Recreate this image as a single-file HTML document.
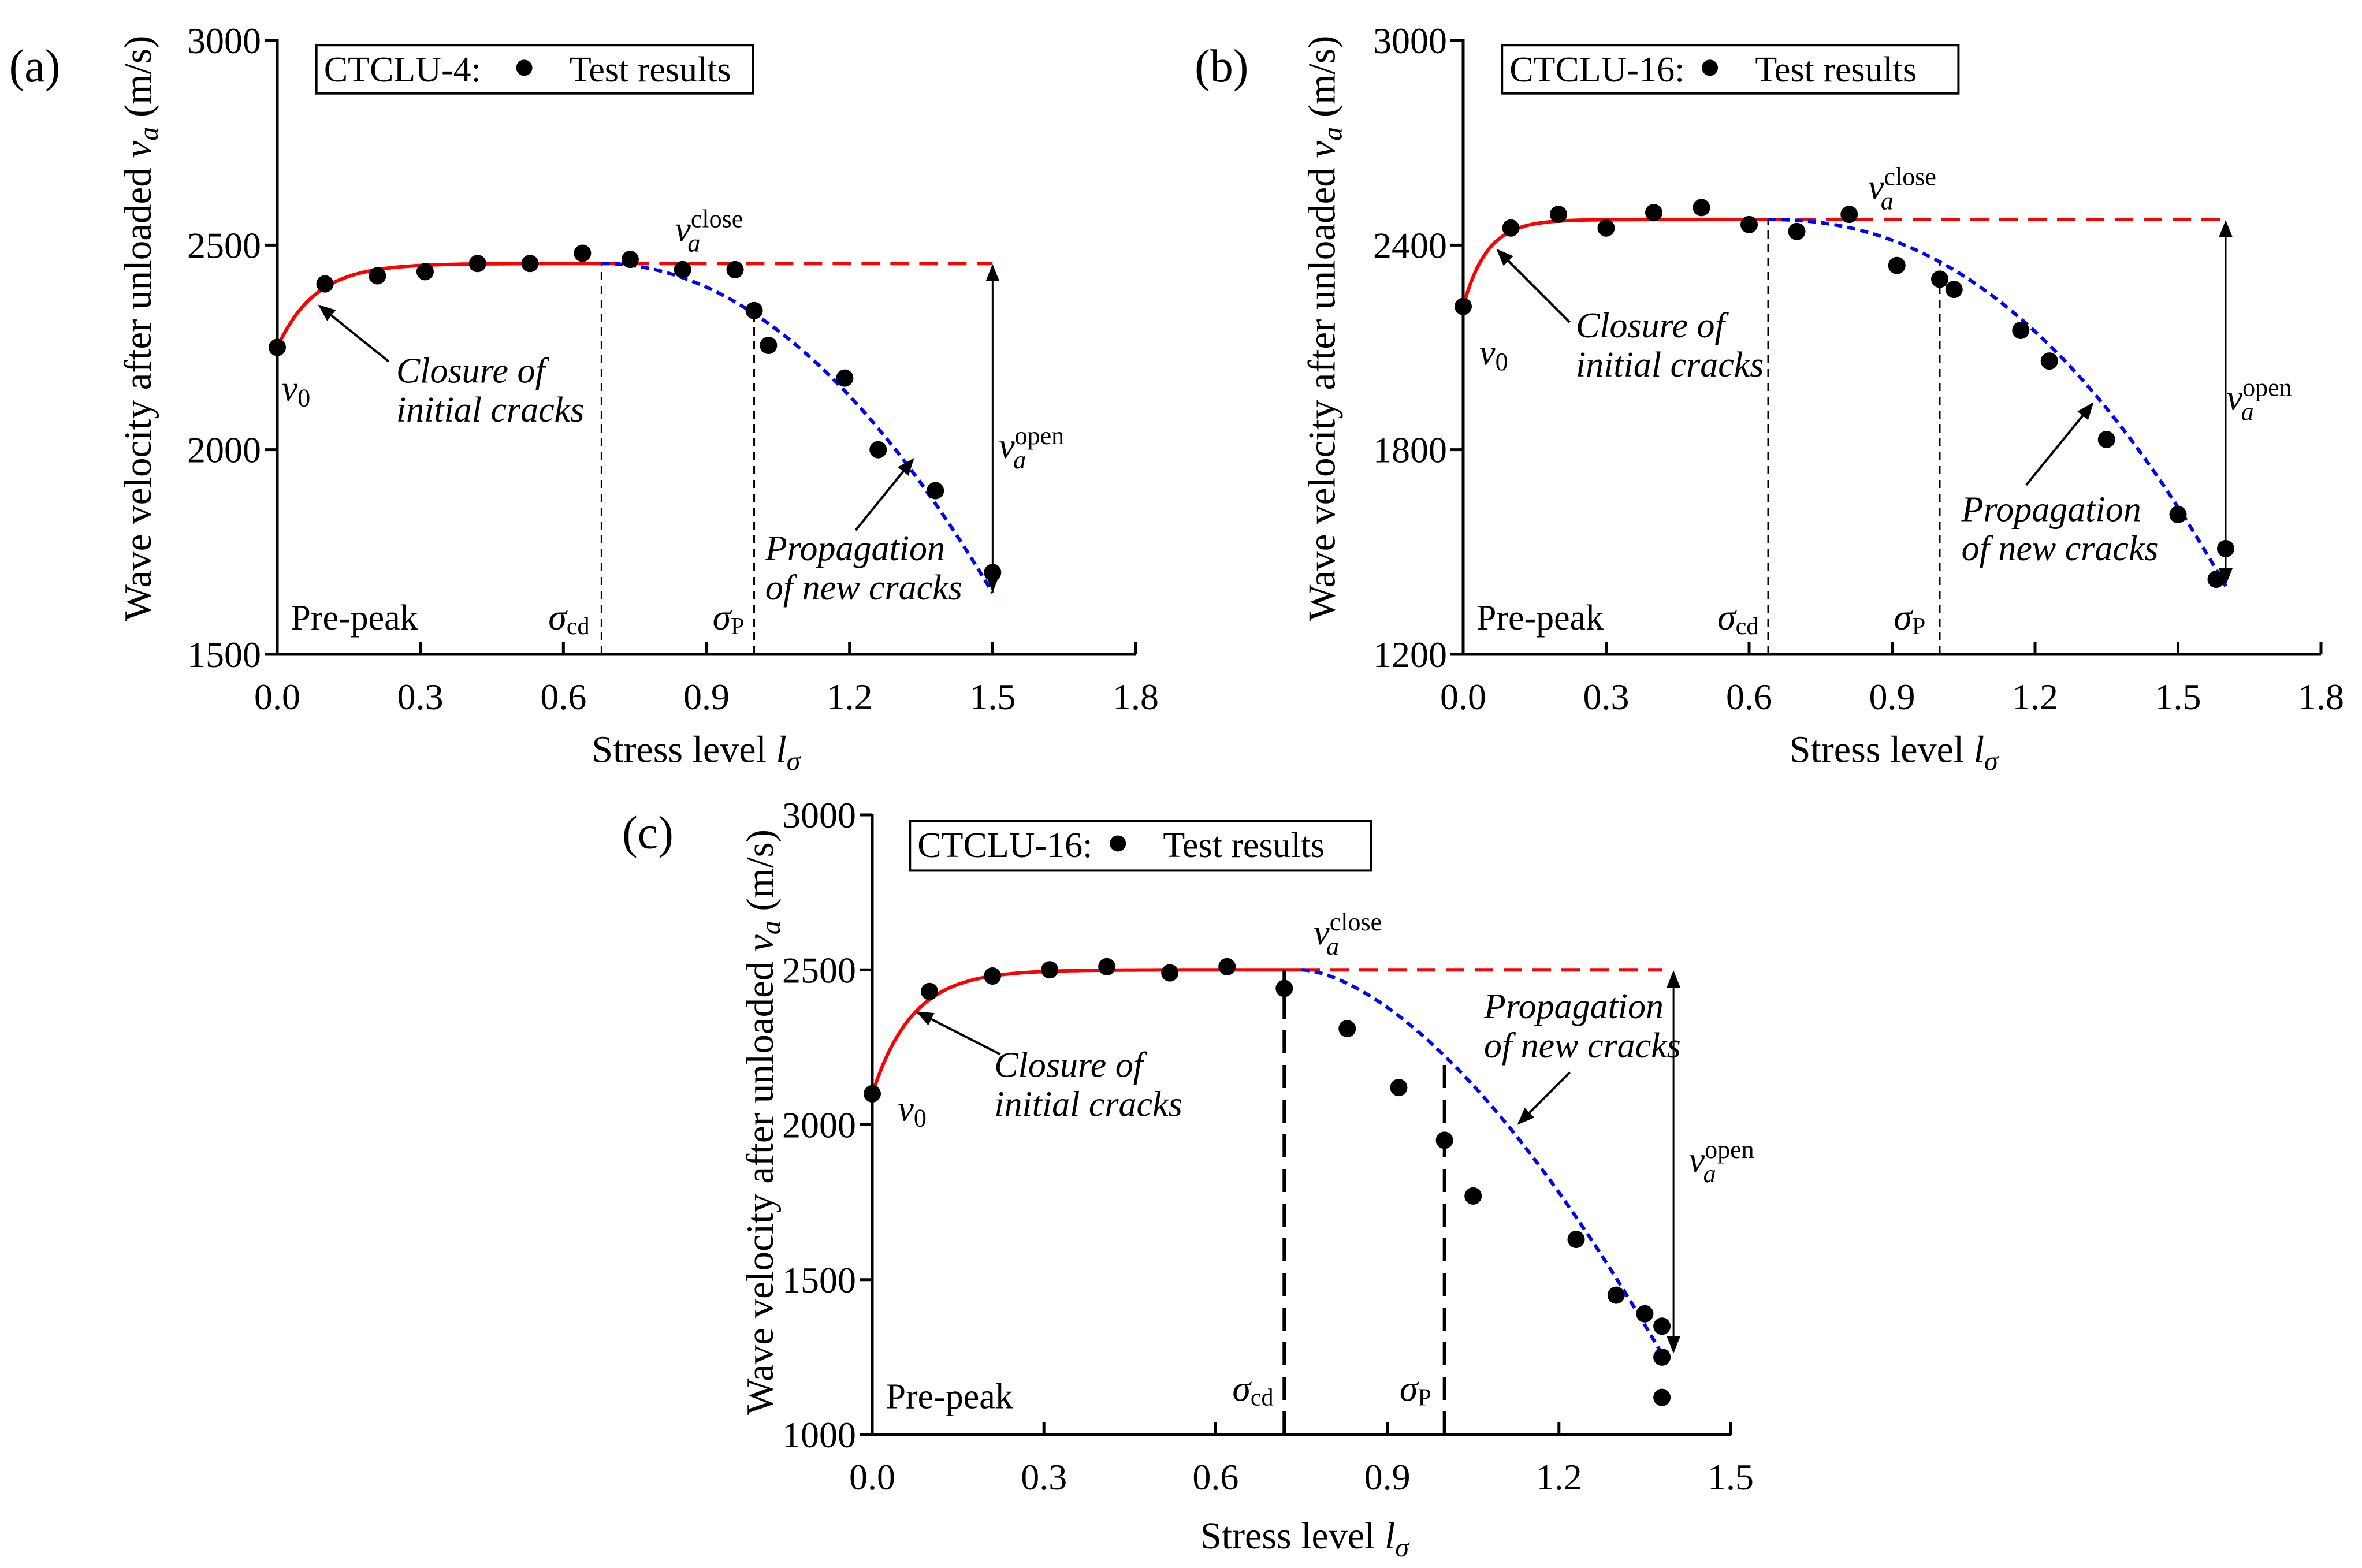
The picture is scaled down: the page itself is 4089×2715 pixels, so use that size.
<!DOCTYPE html>
<html><head><meta charset="utf-8">
<style>
html,body{margin:0;padding:0;background:#fff;}
svg{display:block;font-family:"Liberation Serif","DejaVu Serif",serif;}
</style></head>
<body>
<svg id="fig" width="4089" height="2715" viewBox="0 0 4089 2715" xmlns="http://www.w3.org/2000/svg">
<defs>
<marker id="ah2" viewBox="0 0 10 10" refX="9" refY="5" markerWidth="30" markerHeight="30" orient="auto-start-reverse" markerUnits="userSpaceOnUse"><path d="M0,1 L10,5 L0,9 z" fill="#000"/></marker>
</defs>
</svg>
<script>
// ---- data ----
const aX=[0,0.1,0.21,0.31,0.42,0.53,0.64,0.74,0.85,0.96,1.0,1.03,1.19,1.26,1.38,1.5];
const aY=[2250,2405,2425,2435,2455,2455,2480,2465,2440,2440,2340,2255,2175,2000,1900,1700];
const bX=[0,0.1,0.2,0.3,0.4,0.5,0.6,0.7,0.81,0.91,1.0,1.03,1.17,1.23,1.35,1.5,1.58,1.6];
const bY=[2220,2450,2490,2450,2495,2510,2460,2440,2490,2340,2300,2270,2150,2060,1830,1610,1420,1510];
const cX=[0,0.1,0.21,0.31,0.41,0.52,0.62,0.72,0.83,0.92,1.0,1.05,1.23,1.3,1.35,1.38,1.38,1.38];
const cY=[2100,2430,2480,2500,2510,2490,2510,2440,2310,2120,1950,1770,1630,1450,1390,1350,1250,1120];
const abXTicks=[0,0.3,0.6,0.9,1.2,1.5,1.8];
const aYTicks=[1500,2000,2500,3000];
const bYTicks=[1200,1800,2400,3000];
const cXTicks=[0,0.3,0.6,0.9,1.2,1.5];
const cYTicks=[1000,1500,2000,2500,3000];
// fit params: v0, plateau, x of cd, x end, drop at end, exponent, k, cd-line x
const aFit=[2250,2455,0.68,1.5,805,2.0,0.08,0.68];
const bFit=[2220,2475,0.64,1.6,1075,2.2,0.05,0.64];
const cFit=[2100,2500,0.75,1.38,1240,1.62,0.07,0.72];

const S=2.608;
const svg=document.getElementById('fig');
const NS='http://www.w3.org/2000/svg';
function mk(tag,attrs,parent){const e=document.createElementNS(NS,tag);for(const k in attrs)e.setAttribute(k,attrs[k]);(parent||svg).appendChild(e);return e;}

function panel(id,cfg,X,Y,xt,yt,fit){
  const g=mk('g',{});
  
  
  const px=v=>cfg.x0+(v-cfg.xmin)/(cfg.xmax-cfg.xmin)*(cfg.x1-cfg.x0);
  const py=v=>cfg.y0-(v-cfg.ymin)/(cfg.ymax-cfg.ymin)*(cfg.y0-cfg.y1);
  const ax=mk('path',{d:`M${cfg.x0},${cfg.y1-2}V${cfg.y0}H${cfg.x1}`,stroke:'#000','stroke-width':5,fill:'none'},g);
  
  
  xt.forEach(t=>{
    mk('line',{x1:px(t),x2:px(t),y1:cfg.y0,y2:cfg.y0-22,stroke:'#000','stroke-width':5},g);
    const tx=mk('text',{x:px(t),y:cfg.y0+95,'font-size':64,'text-anchor':'middle'},g);
    tx.textContent=t.toFixed(1);
    
    
  });
  yt.forEach(t=>{
    mk('line',{x1:cfg.x0,x2:cfg.x0-22,y1:py(t),y2:py(t),stroke:'#000','stroke-width':5},g);
    const tx=mk('text',{x:cfg.x0-28,y:py(t)+22,'font-size':64,'text-anchor':'end'},g);
    tx.textContent=t;
    
    
  });
  const [v0,pl,xcd,xe,drop,pw,k,xl]=fit;
  let d='';
  for(let i=0;i<=80;i++){const x=xcd*i/80;const v=pl-(pl-v0)*Math.exp(-x/k);d+=(i?'L':'M')+px(x).toFixed(1)+','+py(v).toFixed(1);}
  const red=mk('path',{d,stroke:'#f00','stroke-width':6,fill:'none'},g);
  
  
  const rh=mk('line',{x1:px(xcd),x2:px(xe),y1:py(pl),y2:py(pl),stroke:'#f00','stroke-width':6,'stroke-dasharray':'32 18'},g);
  
  
  d='';
  for(let i=0;i<=80;i++){const x=xcd+(xe-xcd)*i/80;const v=pl-drop*Math.pow((x-xcd)/(xe-xcd),pw);d+=(i?'L':'M')+px(x).toFixed(1)+','+py(v).toFixed(1);}
  const blue=mk('path',{d,stroke:'#00f','stroke-width':6,fill:'none','stroke-dasharray':'14 9'},g);
  
  
  const vAt=x=>pl-drop*Math.pow(Math.max(0,(x-xcd)/(xe-xcd)),pw);
  const sw=cfg.thick?6:3, da=cfg.thick?'40 20':'14 10';
  const l1=mk('line',{x1:px(xl),x2:px(xl),y1:cfg.y0,y2:py(pl),stroke:'#000','stroke-width':sw,'stroke-dasharray':da},g);
  
  
  const l2=mk('line',{x1:px(1),x2:px(1),y1:cfg.y0,y2:py(vAt(1)),stroke:'#000','stroke-width':sw,'stroke-dasharray':da},g);
  
  
  const ar=mk('line',{x1:px(xe)+(cfg.arrowDx||0),x2:px(xe)+(cfg.arrowDx||0),y1:py(pl)+4,y2:py(pl-drop)-4,stroke:'#000','stroke-width':3,'marker-start':'url(#ah2)','marker-end':'url(#ah2)'},g);
  
  
  X.forEach((x,i)=>{
    const c=mk('circle',{cx:px(x),cy:py(Y[i]),r:15,fill:'#000'},g);
    
    
  });
  return g;
}
function txt(html,x,y,size,name,anchor,extra){
  const t=mk('text',Object.assign({x:x*S,y:y*S,'font-size':size,'text-anchor':anchor||'start'},extra||{}));
  t.innerHTML=html;
  
  
  return t;
}
function arrow(x1,y1,x2,y2,name){
  const l=mk('line',{x1:x1*S,y1:y1*S,x2:x2*S,y2:y2*S,stroke:'#000','stroke-width':4,'marker-end':'url(#ah2)'});
  
  
}
function legend(x1,y1,x2,y2,label){
  const r=mk('rect',{x:x1*S,y:y1*S,width:(x2-x1)*S,height:(y2-y1)*S,fill:'#fff',stroke:'#000','stroke-width':4});
  
  
  txt(label,x1+5,y1+24,62,'legend-sample-label');
  const c=mk('circle',{cx:(x1+ (label.length>9?152:138))*S,cy:(y1+15)*S,r:14,fill:'#000'});
  
  
  txt('Test results',x1+(label.length>9?179:168),y1+24,62,'legend-entry');
}
function annotations(p,o){
  txt(p.tag,o.tag[0],o.tag[1],80,'panel-label');
  const yt=txt('Wave velocity after unloaded <tspan font-style="italic">v</tspan><tspan font-style="italic" font-size="48" dy="12">a</tspan><tspan dy="-12"> (m/s)</tspan>',0,0,67,'y-axis-title','middle',{transform:`translate(${o.yt[0]*S},${o.yt[1]*S}) rotate(-90)`});
  txt('Stress level <tspan font-style="italic">l</tspan><tspan font-style="italic" font-size="48" dy="14">σ</tspan>',o.xt[0],o.xt[1],66,'x-axis-title','middle');
  txt('Pre-peak',o.pre[0],o.pre[1],62,'pre-peak-label');
  txt('<tspan font-style="italic">σ</tspan><tspan font-size="42" dy="8">cd</tspan>',o.scd[0],o.scd[1],64,'sigma-cd-label');
  txt('<tspan font-style="italic">σ</tspan><tspan font-size="42" dy="8">P</tspan>',o.sp[0],o.sp[1],64,'sigma-p-label');
  txt('<tspan font-style="italic">v</tspan><tspan font-size="44" dy="10">0</tspan>',o.v0[0],o.v0[1],62,'v0-label');
  txt('Closure of',o.cl[0],o.cl[1],62,'closure-annotation',null,{'font-style':'italic'});
  txt('initial cracks',o.cl[0],o.cl[1]+26,62,'closure-annotation',null,{'font-style':'italic'});
  arrow(o.cla[0],o.cla[1],o.cla[2],o.cla[3],'closure-arrow');
  txt('Propagation',o.pr[0],o.pr[1],62,'propagation-annotation',null,{'font-style':'italic'});
  txt('of new cracks',o.pr[0],o.pr[1]+26,62,'propagation-annotation',null,{'font-style':'italic'});
  arrow(o.pra[0],o.pra[1],o.pra[2],o.pra[3],'propagation-arrow');
  txt('<tspan font-style="italic">v</tspan><tspan font-size="44" dy="-24">close</tspan><tspan font-style="italic" font-size="44" dx="-96" dy="42">a</tspan>',o.vc[0],o.vc[1],62,'v-close-label');
  txt('<tspan font-style="italic">v</tspan><tspan font-size="44" dy="-24">open</tspan><tspan font-style="italic" font-size="44" dx="-88" dy="42">a</tspan>',o.vo[0],o.vo[1],62,'v-open-label');
}
panel('a',{x0:480,x1:1966,y0:1133,y1:70,xmin:0,xmax:1.8,ymin:1500,ymax:3000},aX,aY,abXTicks,aYTicks,aFit);
panel('b',{x0:2533,x1:4018,y0:1133,y1:70,xmin:0,xmax:1.8,ymin:1200,ymax:3000},bX,bY,abXTicks,bYTicks,bFit);
panel('c',{x0:1510,x1:2996,y0:2484,y1:1411,xmin:0,xmax:1.5,ymin:1000,ymax:3000,thick:true,arrowDx:20},cX,cY,cXTicks,cYTicks,cFit);
legend(210,30,500,62,'CTCLU-4:');
legend(997,30,1300,62,'CTCLU-16:');
legend(604,545,910,578,'CTCLU-16:');
annotations({tag:'(a)'},{tag:[6,54],yt:[100,218],xt:[462,506],pre:[193,418],scd:[364,418],sp:[473,418],v0:[187,266],cl:[263,254],cla:[258,240,212,203],pra:[568,352,606,305],pr:[508,372],vc:[448,160],vo:[663,304]});
annotations({tag:'(b)'},{tag:[793,54],yt:[886,218],xt:[1257,506],pre:[980,418],scd:[1140,418],sp:[1257,418],v0:[982,242],cl:[1046,224],cla:[1042,214,994,166],pr:[1302,346],pra:[1345,322,1389,268],vc:[1240,132],vo:[1478,272]});
annotations({tag:'(c)'},{tag:[413,563],yt:[513,745],xt:[866,1028],pre:[588,935],scd:[818,930],sp:[929,930],v0:[596,744],cl:[660,715],cla:[664,700,609,672],pr:[985,676],pra:[1042,712,1008,746],vc:[872,627],vo:[1121,778]});
</script>
</body></html>
